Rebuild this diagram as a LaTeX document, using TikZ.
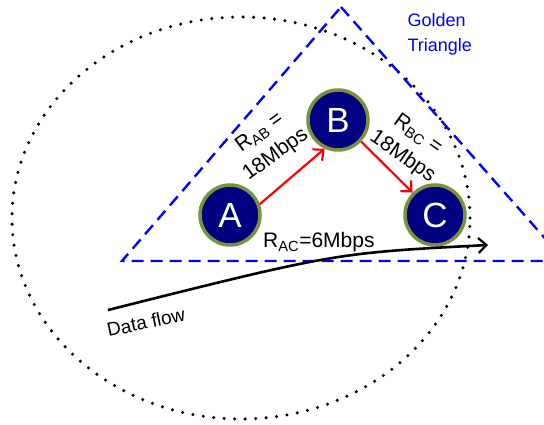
\documentclass[tikz,border=0pt]{standalone}
\usepackage{fontspec}
\setmainfont{Liberation Sans}
\usepackage{tikz}
\usetikzlibrary{arrows.meta}
\usetikzlibrary{positioning}
\definecolor{hubnavy}{RGB}{0,0,128}
\definecolor{hubolive}{RGB}{119,147,60}

\begin{document}
\begin{tikzpicture}[
            x=1pt,
            y=1pt,
            hub/.style={
                circle,
                draw=hubolive,
                fill=hubnavy,
                line width=3.5pt,
                minimum size=60pt,
                inner sep=0pt,
                text=white,
                font=\fontsize{35}{37}\selectfont
            },
            link/.style={
                draw=red,
                line width=2.2pt,
                -{Straight Barb[length=8pt,width=15pt,line width=2.2pt]}
            },
            flow/.style={
                draw=black,
                line width=2.6pt,
                -{Straight Barb[length=8pt,width=15pt,line width=2.2pt]}
            },
            golden/.style={
                draw=blue,
                line width=2.4pt,
                dash pattern=on 12pt off 7pt
            },
            zone/.style={
                draw=black,
                line width=3.4pt,
                line cap=round,
                dash pattern=on 0pt off 10.5pt
            },
            rate/.style={
                font=\fontsize{21}{27}\selectfont,
                align=center,
                inner sep=0pt
            }
        ]

            \useasboundingbox (0,0) rectangle (544,425);
            \clip (0,0) rectangle (544,425);

            % Range and triangle
            \draw[zone] (241,207) ellipse [x radius=229, y radius=201];
            \draw[golden] (341,418) -- (565,164) -- (122,164) -- cycle;

            % Hosts
            \node[hub] (A) at (230,210) {A};
            \node[hub] (B) at (338,305) {B};
            \node[hub] (C) at (435,210) {C};

            % Links
            \draw[link] (A.20) -- (B.245);
            \draw[link] (B.317) -- (C.135);

            % Data flow
            \coordinate (flowstart) at (108,115);
            \coordinate (flowend) at (488,180);
            \draw[flow] (flowstart) .. controls (335,172) .. (flowend);

            % Rate labels
            \node[rate, rotate=36] (rab) at (268,281) {R\textsubscript{AB} =\\18Mbps};
            \node[rate, rotate=-35] (rbc) at (410,279) {R\textsubscript{BC} =\\18Mbps};
            \node[rate, anchor=base west] (rac) at (263,177) {R\textsubscript{AC}=6Mbps};

            % Captions
            \node[font=\fontsize{18}{25}\selectfont, text=blue, align=left, anchor=west] (gold) at (404,391) {Golden\\Triangle};
            \node[font=\fontsize{19}{21}\selectfont, rotate=12] (flowlab) at (146,103) {Data flow};

        \end{tikzpicture}
\end{document}
